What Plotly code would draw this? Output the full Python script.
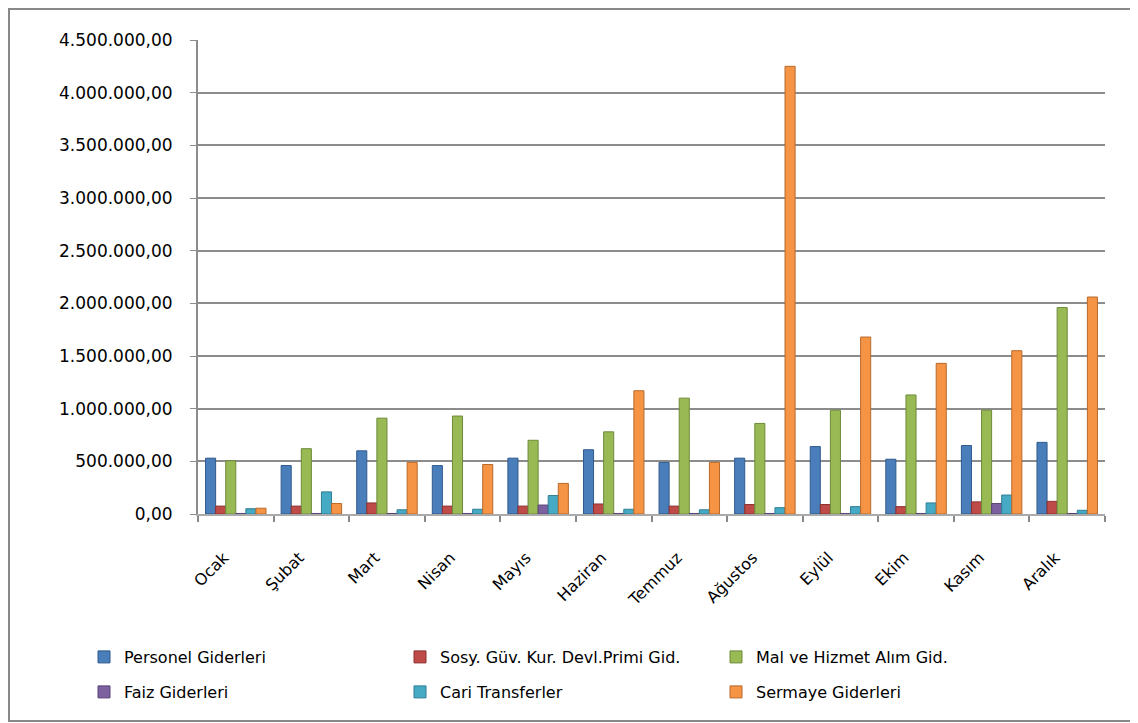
import plotly.graph_objects as go

months = ["Ocak", "Şubat", "Mart", "Nisan", "Mayıs", "Haziran", "Temmuz",
          "Ağustos", "Eylül", "Ekim", "Kasım", "Aralık"]

personel = [530000, 460000, 600000, 460000, 530000, 610000, 490000, 530000, 640000, 520000, 650000, 680000]
sosy = [75000, 75000, 105000, 75000, 75000, 95000, 75000, 90000, 90000, 70000, 115000, 120000]
mal = [505000, 620000, 910000, 930000, 700000, 780000, 1100000, 860000, 985000, 1130000, 985000, 1960000]
faiz = [5000, 5000, 5000, 5000, 85000, 5000, 5000, 5000, 5000, 5000, 100000, 5000]
cari = [50000, 210000, 40000, 45000, 175000, 45000, 40000, 60000, 70000, 105000, 180000, 35000]
sermaye = [55000, 100000, 490000, 470000, 290000, 1170000, 490000, 4250000, 1680000, 1430000, 1550000, 2060000]

series_names = ["Personel Giderleri", "Sosy. Güv. Kur. Devl.Primi Gid.", "Mal ve Hizmet Alım Gid.",
                "Faiz Giderleri", "Cari Transferler", "Sermaye Giderleri"]
series_values = [personel, sosy, mal, faiz, cari, sermaye]
colors = ["#4A7EBB", "#BE4B48", "#98B954", "#7D60A0", "#46AAC5", "#F69445"]
line_colors = ["#2F5A8C", "#8C3230", "#6E8A3A", "#5A4478", "#2F7E94", "#B8692A"]

y_tickvals = [0, 500000, 1000000, 1500000, 2000000, 2500000, 3000000, 3500000, 4000000, 4500000]
y_ticktext = ["0,00", "500.000,00", "1.000.000,00", "1.500.000,00", "2.000.000,00",
              "2.500.000,00", "3.000.000,00", "3.500.000,00", "4.000.000,00", "4.500.000,00"]

FONT = "DejaVu Sans"

fig = go.Figure()
for i, (name, vals) in enumerate(zip(series_names, series_values)):
    fig.add_trace(go.Bar(
        x=months, y=vals, name=name,
        marker=dict(color=colors[i], line=dict(color=line_colors[i], width=1)),
        legend="legend" if i < 3 else "legend2",
    ))

# page has an 8px body margin; figure sits at (8, 8)
OFF = 8
W, H = 1130, 715
L, R, T, B = 190, 33, 32, 209
pw = W - L - R
ph = H - T - B

def px_x(x_page):
    return (x_page - OFF - L) / pw

def px_y(y_page):
    return (H - B - (y_page - OFF)) / ph

legend_common = dict(
    orientation="h", xanchor="left", yanchor="middle",
    font=dict(family=FONT, size=16, color="#000000"),
    entrywidth=271, entrywidthmode="pixels",
    bgcolor="rgba(0,0,0,0)",
)

fig.update_layout(
    width=W, height=H,
    margin=dict(l=L, r=R, t=T, b=B),
    paper_bgcolor="white", plot_bgcolor="white",
    barmode="group", bargap=0.2, bargroupgap=0.0,
    font=dict(family=FONT, size=16, color="#000000"),
    showlegend=True,
    legend=dict(x=px_x(84), y=px_y(657), **legend_common),
    legend2=dict(x=px_x(84), y=px_y(692), **legend_common),
    xaxis=dict(
        type="category", tickangle=-45, tickson="boundaries",
        ticks="outside", ticklen=6, tickcolor="#888888", tickwidth=2,
        ticklabelstandoff=26, ticklabelshift=-12,
        showline=True, linecolor="#AAAAAA", linewidth=2,
        showgrid=False, tickfont=dict(family=FONT, size=16, color="#000000"),
    ),
    yaxis=dict(
        range=[0, 4500000], tickvals=y_tickvals, ticktext=y_ticktext,
        showgrid=True, gridcolor="#8C8C8C", gridwidth=2,
        showline=True, linecolor="#8C8C8C", linewidth=2,
        ticks="outside", ticklen=6, tickcolor="#8C8C8C",
        ticklabelstandoff=14,
        zeroline=False, tickfont=dict(family=FONT, size=17, color="#000000"),
    ),
    shapes=[dict(
        type="rect", xref="paper", yref="paper",
        x0=px_x(9), x1=px_x(1145), y0=px_y(721), y1=px_y(9),
        line=dict(color="#888888", width=2), fillcolor="rgba(0,0,0,0)", layer="below",
    )],
)

fig.write_html("out.html")
